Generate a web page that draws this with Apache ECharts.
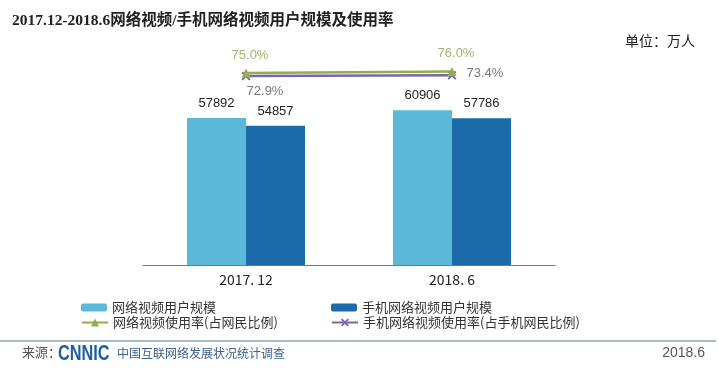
<!DOCTYPE html>
<html><head><meta charset="utf-8">
<script src="https://cdn.jsdelivr.net/npm/echarts@6/dist/echarts.min.js"></script>
<style>html,body{margin:0;padding:0;background:#fff}#c{width:719px;height:371px}</style>
</head><body><div id="c"></div>
<script>
const categories = ['2017. 12', '2018. 6'];
const videoUsers = [57892, 60906];
const mobileVideoUsers = [54857, 57786];
const videoRate = [75.0, 76.0];
const mobileVideoRate = [72.9, 73.4];
const seriesNames = ['网络视频用户规模', '手机网络视频用户规模', '网络视频使用率(占网民比例)', '手机网络视频使用率(占手机网民比例)'];

const xSymbol = 'path://M0,1.5 L1.5,0 L5,3.5 L8.5,0 L10,1.5 L6.5,5 L10,8.5 L8.5,10 L5,6.5 L1.5,10 L0,8.5 L3.5,5 Z';
const chart = echarts.init(document.getElementById('c'), null, {renderer: 'canvas'});
const legendText = {fontSize: 13, color: '#333', fontFamily: 'Noto Sans CJK SC'};
chart.setOption({
  backgroundColor: '#fff',
  animation: false,
  title: [
    {text: '2017.12-2018.6网络视频/手机网络视频用户规模及使用率', left: 7, top: 8,
     textStyle: {fontSize: 15.5, fontWeight: 'bold', color: '#222', fontFamily: 'Liberation Serif, Noto Sans CJK SC'}},
    {text: '单位：万人', left: 620, top: 29, textStyle: {fontSize: 14, fontWeight: 'normal', color: '#222', fontFamily: 'Noto Sans CJK SC'}}
  ],
  legend: [
    {data: [seriesNames[0]], left: 76, top: 296, itemWidth: 26, itemHeight: 8, textStyle: legendText},
    {data: [seriesNames[1]], left: 326, top: 296, itemWidth: 26, itemHeight: 8, textStyle: legendText},
    {data: [seriesNames[2]], left: 76, top: 311, itemWidth: 26, itemHeight: 10, textStyle: legendText},
    {data: [seriesNames[3]], left: 326, top: 311, itemWidth: 26, itemHeight: 10, textStyle: legendText}
  ],
  grid: {left: 143, right: 164, top: 11, bottom: 106},
  xAxis: {
    type: 'category', data: categories,
    axisLine: {lineStyle: {color: '#777', width: 1}},
    axisTick: {show: false},
    axisLabel: {fontSize: 14, color: '#222', margin: 8, fontFamily: 'Noto Sans CJK SC'}
  },
  yAxis: [
    {type: 'value', min: 0, max: 100000, show: false, splitLine: {show: false}},
    {type: 'value', min: -53, max: 116.3, show: false, splitLine: {show: false}}
  ],
  series: [
    {name: seriesNames[0], type: 'bar', data: videoUsers, barWidth: 59, barGap: '0%',
     itemStyle: {color: '#5cb8d9'},
     label: {show: true, position: 'top', distance: 8, fontSize: 13, color: '#222', fontFamily: 'Liberation Sans'}},
    {name: seriesNames[1], type: 'bar', data: mobileVideoUsers, barWidth: 59,
     itemStyle: {color: '#1b6bab'},
     label: {show: true, position: 'top', distance: 8, fontSize: 13, color: '#222', fontFamily: 'Liberation Sans'}},
    {name: seriesNames[2], type: 'line', yAxisIndex: 1, data: videoRate,
     lineStyle: {color: '#8fb04a', width: 2.5}, itemStyle: {color: '#8fb04a'},
     symbol: 'triangle', symbolSize: 9, z: 3,
     label: {show: true, position: 'top', distance: 7, offset: [4, 0], fontSize: 13, color: '#a0b46e', fontFamily: 'Liberation Sans',
             formatter: p => p.value.toFixed(1) + '%'}},
    {name: seriesNames[3], type: 'line', yAxisIndex: 1, data: mobileVideoRate.map((v, i) => i === 0
        ? {value: v, label: {position: 'bottom', distance: 4, offset: [19, 0]}}
        : {value: v, label: {position: 'right', distance: 10, offset: [0, -2]}}),
     lineStyle: {color: '#7a66a6', width: 2.5}, itemStyle: {color: '#7a66a6'},
     symbol: xSymbol, symbolSize: 9, z: 2,
     label: {show: true, fontSize: 13, color: '#777', fontFamily: 'Liberation Sans',
             formatter: p => p.value.toFixed(1) + '%'}}
  ],
  graphic: [
    {type: 'line', shape: {x1: 0, y1: 341, x2: 716, y2: 341}, style: {stroke: '#8fa3b5', lineWidth: 1.5}},
    {type: 'text', left: 22, top: 346, style: {text: '来源：', fontSize: 13, fill: '#555', fontFamily: 'Noto Sans CJK SC'}},
    {type: 'text', x: 58, y: 343, scaleX: 0.74, style: {text: 'CNNIC', fontSize: 22, fontWeight: 'bold', fill: '#1e5ea8', fontFamily: 'Liberation Sans'}},
    {type: 'text', left: 117, top: 347, style: {text: '中国互联网络发展状况统计调查', fontSize: 12, fill: '#3b5f93', fontFamily: 'Noto Sans CJK SC'}},
    {type: 'text', right: 14, top: 346, style: {text: '2018.6', fontSize: 14, fill: '#555', fontFamily: 'Liberation Sans Narrow, Liberation Sans'}}
  ]
});
</script></body></html>
